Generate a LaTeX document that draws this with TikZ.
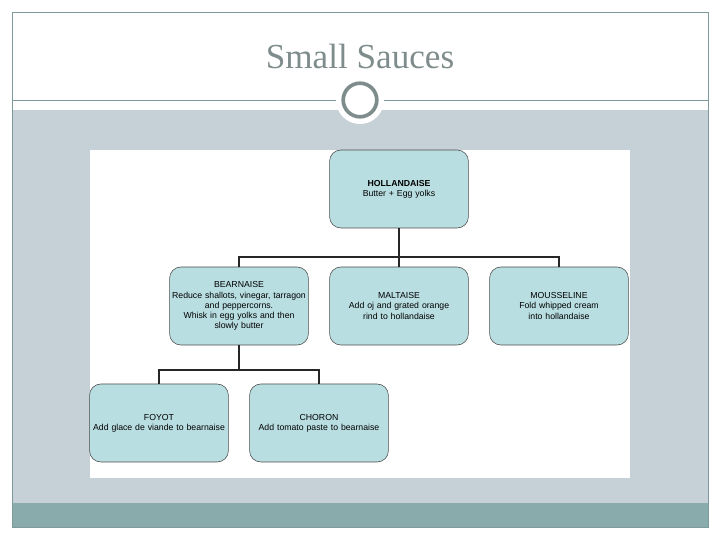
\documentclass[tikz,border=0pt]{standalone}
\usepackage{fontspec}
\setmainfont{Liberation Serif}
\setsansfont{Liberation Sans}
\usepackage{xcolor}
\usetikzlibrary{calc}

\definecolor{framegray}{HTML}{7F9A9A}
\definecolor{bandgray}{HTML}{C5D1D7}
\definecolor{footteal}{HTML}{8AABAB}
\definecolor{titlegray}{HTML}{7F8C8C}
\definecolor{boxblue}{HTML}{B9DEE1}

\begin{document}
\begin{tikzpicture}[
    sauce/.style={draw=black!70, fill=boxblue, rounded corners=8pt, align=center, inner sep=1pt, minimum height=1.95cm, text width=3.4cm, font=\sffamily\fontsize{6.2}{7.2}\selectfont},
    link/.style={thick, black!85}
]
\useasboundingbox (0,0) rectangle (18,13.5);
% slide background
\fill[bandgray] (0.3,10.75) rectangle (17.7,0.925);
\fill[footteal] (0.3,0.925) rectangle (17.7,0.325);
\draw[framegray, thin] (0.3,0.325) rectangle (17.7,13.2);
\draw[framegray, thin] (0.3,11.0) -- (17.7,11.0);
\fill[white] (9,11.0) circle (0.6);
\draw[titlegray, line width=2.6pt] (9,11.0) circle (0.42);
\node[text=titlegray, font=\fontsize{25}{28}\selectfont] (title) at (9,12.1) {Small Sauces};
\fill[white] (2.25,9.75) rectangle (15.75,1.55);

% chart
\node[sauce] (holl) at (9.975,8.775) {\textbf{HOLLANDAISE}\\Butter + Egg yolks};
\node[sauce] (bear) at (5.975,5.85) {BEARNAISE\\Reduce shallots, vinegar, tarragon\\and peppercorns.\\Whisk in egg yolks and then\\slowly butter};
\node[sauce] (malt) at (9.975,5.85) {MALTAISE\\Add oj and grated orange\\rind to hollandaise};
\node[sauce] (mous) at (13.975,5.85) {MOUSSELINE\\Fold whipped cream\\into hollandaise};
\node[sauce] (foyot) at (3.975,2.925) {FOYOT\\Add glace de viande to bearnaise};
\node[sauce] (choron) at (7.975,2.925) {CHORON\\Add tomato paste to bearnaise};

\coordinate (split1) at (9.975,7.075);
\coordinate (split2) at (5.975,4.25);
\draw[link] (holl) -- (malt);
\draw[link] (bear) |- (split1) -| (mous);
\draw[link] (bear) -- (split2);
\draw[link] (foyot) |- (split2) -| (choron);
\end{tikzpicture}
\end{document}
